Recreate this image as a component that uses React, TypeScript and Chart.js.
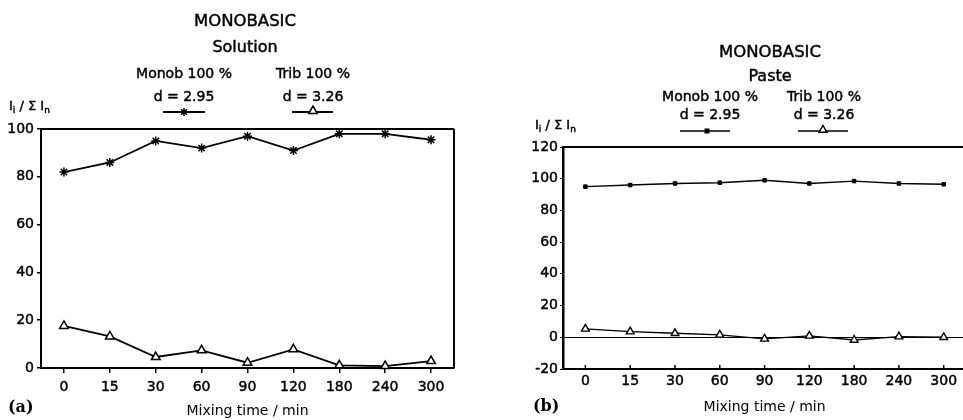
import React, { useEffect, useRef } from 'react';
import { Chart, registerables } from 'chart.js';

Chart.register(...registerables);

// ---------- data ----------
const mixingTimes = ['0', '15', '30', '60', '90', '120', '180', '240', '300'];

const solutionMonob = [82, 86, 95, 92, 97, 91, 98, 98, 95.5];
const solutionTrib = [17.6, 13.2, 4.6, 7.4, 2.2, 7.8, 1.1, 0.8, 2.9];

const pasteMonob = [95, 96, 97, 97.5, 99, 97, 98.5, 97, 96.5];
const pasteTrib = [5.3, 3.6, 2.5, 1.5, -1, 0.9, -1.7, 0.4, 0];

const solutionYTicks = [0, 20, 40, 60, 80, 100];
const pasteYTicks = [-20, 0, 20, 40, 60, 80, 100, 120];

// ---------- styling ----------
const FONT = '"DejaVu Sans", "Liberation Sans", sans-serif';
const SERIF = '"DejaVu Serif", "Liberation Serif", serif';
const INK = '#000';
const TEXT_STROKE = 0.45;

function drawStar(ctx: CanvasRenderingContext2D, x: number, y: number, r: number, lw: number) {
  ctx.save();
  ctx.strokeStyle = INK;
  ctx.lineWidth = lw;
  ctx.beginPath();
  for (let k = 0; k < 4; k++) {
    const a = (k * Math.PI) / 4;
    ctx.moveTo(x - Math.cos(a) * r, y - Math.sin(a) * r);
    ctx.lineTo(x + Math.cos(a) * r, y + Math.sin(a) * r);
  }
  ctx.stroke();
  ctx.restore();
}

function drawTriangle(ctx: CanvasRenderingContext2D, x: number, y: number, r: number, lw: number) {
  ctx.save();
  ctx.strokeStyle = INK;
  ctx.fillStyle = '#fff';
  ctx.lineWidth = lw;
  ctx.beginPath();
  for (let k = 0; k < 3; k++) {
    const a = (k * 2 * Math.PI) / 3;
    const px = x + Math.sin(a) * r;
    const py = y - Math.cos(a) * r;
    if (k === 0) ctx.moveTo(px, py);
    else ctx.lineTo(px, py);
  }
  ctx.closePath();
  ctx.fill();
  ctx.stroke();
  ctx.restore();
}

function drawSquare(ctx: CanvasRenderingContext2D, x: number, y: number, r: number) {
  ctx.save();
  ctx.fillStyle = INK;
  ctx.fillRect(x - r, y - r, 2 * r, 2 * r);
  ctx.restore();
}

function drawYTitle(ctx: CanvasRenderingContext2D, x: number, y: number, size: number) {
  ctx.save();
  ctx.fillStyle = INK;
  ctx.strokeStyle = INK;
  ctx.lineWidth = TEXT_STROKE;
  ctx.textAlign = 'left';
  ctx.textBaseline = 'middle';
  let cx = x;
  const seg = (t: string, sub: boolean) => {
    ctx.font = `${sub ? Math.round(size * 0.7) : size}px ${FONT}`;
    const yy = y + (sub ? size * 0.3 : 0);
    ctx.fillText(t, cx, yy);
    ctx.strokeText(t, cx, yy);
    cx += ctx.measureText(t).width;
  };
  seg('I', false);
  seg('i', true);
  seg(' / Σ I', false);
  seg('n', true);
  ctx.restore();
}

function text(
  ctx: CanvasRenderingContext2D,
  t: string,
  x: number,
  y: number,
  font: string,
  align: CanvasTextAlign = 'center',
  stroke: number = TEXT_STROKE
) {
  ctx.save();
  ctx.fillStyle = INK;
  ctx.strokeStyle = INK;
  ctx.lineWidth = stroke;
  ctx.font = font;
  ctx.textAlign = align;
  ctx.textBaseline = 'middle';
  ctx.fillText(t, x, y);
  if (stroke > 0) ctx.strokeText(t, x, y);
  ctx.restore();
}

function line(ctx: CanvasRenderingContext2D, x1: number, y1: number, x2: number, y2: number, lw: number) {
  ctx.save();
  ctx.strokeStyle = INK;
  ctx.lineWidth = lw;
  ctx.beginPath();
  ctx.moveTo(x1, y1);
  ctx.lineTo(x2, y2);
  ctx.stroke();
  ctx.restore();
}

const leftDecor = {
  id: 'leftDecor',
  afterDraw(chart: any) {
    const ctx: CanvasRenderingContext2D = chart.ctx;
    const a = chart.chartArea;
    line(ctx, a.left, a.top, a.right, a.top, 2);
    line(ctx, a.right, a.top, a.right, a.bottom, 2);
    text(ctx, 'MONOBASIC', 245, 22, `16.5px ${FONT}`);
    text(ctx, 'Solution', 245, 48, `16px ${FONT}`);
    text(ctx, 'Monob 100 %', 184, 74, `14px ${FONT}`);
    text(ctx, 'd = 2.95', 184, 97, `14px ${FONT}`);
    line(ctx, 163, 112, 205, 112, 1.8);
    drawStar(ctx, 184, 112, 4, 1.5);
    text(ctx, 'Trib 100 %', 313, 74, `14px ${FONT}`);
    text(ctx, 'd = 3.26', 313, 97, `14px ${FONT}`);
    line(ctx, 292, 112, 333, 112, 1.8);
    drawTriangle(ctx, 313, 111, 5, 1.5);
    drawYTitle(ctx, 9, 107, 13);
    text(ctx, '(a)', 8, 408, `bold 16px ${SERIF}`, 'left', 0);
  },
};

const rightDecor = {
  id: 'rightDecor',
  afterDraw(chart: any) {
    const ctx: CanvasRenderingContext2D = chart.ctx;
    const a = chart.chartArea;
    const ox = 480;
    line(ctx, a.left, a.top, a.right, a.top, 2);
    line(ctx, a.right, a.top, a.right, a.bottom, 2);
    // upward tick marks on the x axis
    const xs = chart.scales.x;
    xs.ticks.forEach((_t: any, i: number) => {
      const px = xs.getPixelForTick(i);
      line(ctx, px, a.bottom, px, a.bottom - 4, 1.5);
    });
    text(ctx, 'MONOBASIC', 770 - ox, 53, `16.5px ${FONT}`);
    text(ctx, 'Paste', 770 - ox, 77, `16px ${FONT}`);
    text(ctx, 'Monob 100 %', 710 - ox, 97, `14px ${FONT}`);
    text(ctx, 'd = 2.95', 710 - ox, 115, `14px ${FONT}`);
    line(ctx, 680 - ox, 131, 730 - ox, 131, 1.5);
    drawSquare(ctx, 707 - ox, 131, 2.5);
    text(ctx, 'Trib 100 %', 824 - ox, 97, `14px ${FONT}`);
    text(ctx, 'd = 3.26', 824 - ox, 115, `14px ${FONT}`);
    line(ctx, 798 - ox, 131, 848 - ox, 131, 1.5);
    drawTriangle(ctx, 823 - ox, 130, 4.5, 1.4);
    drawYTitle(ctx, 535 - ox, 126, 13);
    text(ctx, '(b)', 533 - ox, 407, `bold 16px ${SERIF}`, 'left', 0);
  },
};

function baseX(tickPad: number, titlePadBottom: number, height: number, drawTicks: boolean) {
  return {
    type: 'category',
    offset: true,
    afterFit: (s: any) => {
      s.height = height;
      s.paddingLeft = 0;
      s.paddingRight = 0;
    },
    grid: {
      display: true,
      drawOnChartArea: false,
      drawTicks,
      tickLength: 5,
      color: INK,
      tickColor: INK,
      lineWidth: 1.5,
      offset: false,
    },
    border: { display: true, color: INK, width: 2 },
    ticks: {
      color: INK,
      textStrokeColor: INK,
      textStrokeWidth: TEXT_STROKE,
      font: { family: FONT, size: 14 },
      padding: tickPad,
      maxRotation: 0,
      autoSkip: false,
    },
    title: {
      display: true,
      text: 'Mixing time / min',
      color: INK,
      font: { family: FONT, size: 14 },
      padding: { top: 0, bottom: titlePadBottom },
    },
  };
}

export default function App() {
  const leftRef = useRef<HTMLCanvasElement>(null);
  const rightRef = useRef<HTMLCanvasElement>(null);

  useEffect(() => {
    if (!leftRef.current || !rightRef.current) return;

    const left = new Chart(leftRef.current, {
      type: 'line',
      data: {
        labels: mixingTimes,
        datasets: [
          {
            label: 'Monob 100 %',
            data: solutionMonob,
            borderColor: INK,
            borderWidth: 1.8,
            pointStyle: 'star',
            pointRadius: 4.5,
            pointBorderWidth: 1.5,
            pointBorderColor: INK,
            pointBackgroundColor: INK,
            tension: 0,
            clip: false,
          },
          {
            label: 'Trib 100 %',
            data: solutionTrib,
            borderColor: INK,
            borderWidth: 1.8,
            pointStyle: 'triangle',
            pointRadius: 5,
            pointBorderWidth: 1.5,
            pointBorderColor: INK,
            pointBackgroundColor: '#fff',
            tension: 0,
            clip: false,
          },
        ],
      },
      options: {
        responsive: false,
        maintainAspectRatio: false,
        animation: false,
        layout: { padding: { left: 0, top: 129, right: 26, bottom: 0 } },
        plugins: { legend: { display: false }, title: { display: false }, tooltip: { enabled: false } },
        events: [],
        scales: {
          x: baseX(6, 0, 52, true) as any,
          y: {
            min: 0,
            max: 100,
            afterFit: (s: any) => {
              s.width = 41;
            },
            afterBuildTicks: (s: any) => {
              s.ticks = solutionYTicks.map((v) => ({ value: v }));
            },
            grid: {
              display: true,
              drawOnChartArea: false,
              drawTicks: true,
              tickLength: 4,
              color: INK,
              tickColor: INK,
              lineWidth: 1.5,
            },
            border: { display: true, color: INK, width: 2 },
            ticks: {
              color: INK,
              textStrokeColor: INK,
              textStrokeWidth: TEXT_STROKE,
              font: { family: FONT, size: 14 },
              padding: 3,
            },
          },
        },
      },
      plugins: [leftDecor],
    } as any);

    const right = new Chart(rightRef.current, {
      type: 'line',
      data: {
        labels: mixingTimes,
        datasets: [
          {
            label: 'Monob 100 %',
            data: pasteMonob,
            borderColor: INK,
            borderWidth: 1.4,
            pointStyle: 'rect',
            pointRadius: 2.5,
            pointBorderWidth: 1,
            pointBorderColor: INK,
            pointBackgroundColor: INK,
            tension: 0,
            clip: false,
          },
          {
            label: 'Trib 100 %',
            data: pasteTrib,
            borderColor: INK,
            borderWidth: 1.4,
            pointStyle: 'triangle',
            pointRadius: 4.5,
            pointBorderWidth: 1.4,
            pointBorderColor: INK,
            pointBackgroundColor: '#fff',
            tension: 0,
            clip: false,
          },
        ],
      },
      options: {
        responsive: false,
        maintainAspectRatio: false,
        animation: false,
        layout: { padding: { left: 0, top: 147, right: 0, bottom: 0 } },
        plugins: { legend: { display: false }, title: { display: false }, tooltip: { enabled: false } },
        events: [],
        scales: {
          x: baseX(4, 4, 51, false) as any,
          y: {
            min: -20,
            max: 120,
            afterFit: (s: any) => {
              s.width = 83;
            },
            afterBuildTicks: (s: any) => {
              s.ticks = pasteYTicks.map((v) => ({ value: v }));
            },
            grid: {
              display: true,
              drawOnChartArea: true,
              drawTicks: true,
              tickLength: 3,
              color: (c: any) => (c.tick && c.tick.value === 0 ? INK : 'rgba(0,0,0,0)'),
              tickColor: INK,
              lineWidth: 1,
            },
            border: { display: true, color: INK, width: 2.5 },
            ticks: {
              color: INK,
              textStrokeColor: INK,
              textStrokeWidth: TEXT_STROKE,
              font: { family: FONT, size: 14 },
              padding: 2,
            },
          },
        },
      },
      plugins: [rightDecor],
    } as any);

    return () => {
      left.destroy();
      right.destroy();
    };
  }, []);

  return (
    <div
      style={{
        position: 'absolute',
        left: 0,
        top: 0,
        width: 963,
        height: 420,
        overflow: 'hidden',
        background: '#fff',
      }}
    >
      <canvas
        ref={leftRef}
        width={480}
        height={420}
        style={{ position: 'absolute', left: 0, top: 0, display: 'block' }}
      />
      <canvas
        ref={rightRef}
        width={492}
        height={420}
        style={{ position: 'absolute', left: 480, top: 0, display: 'block' }}
      />
    </div>
  );
}
